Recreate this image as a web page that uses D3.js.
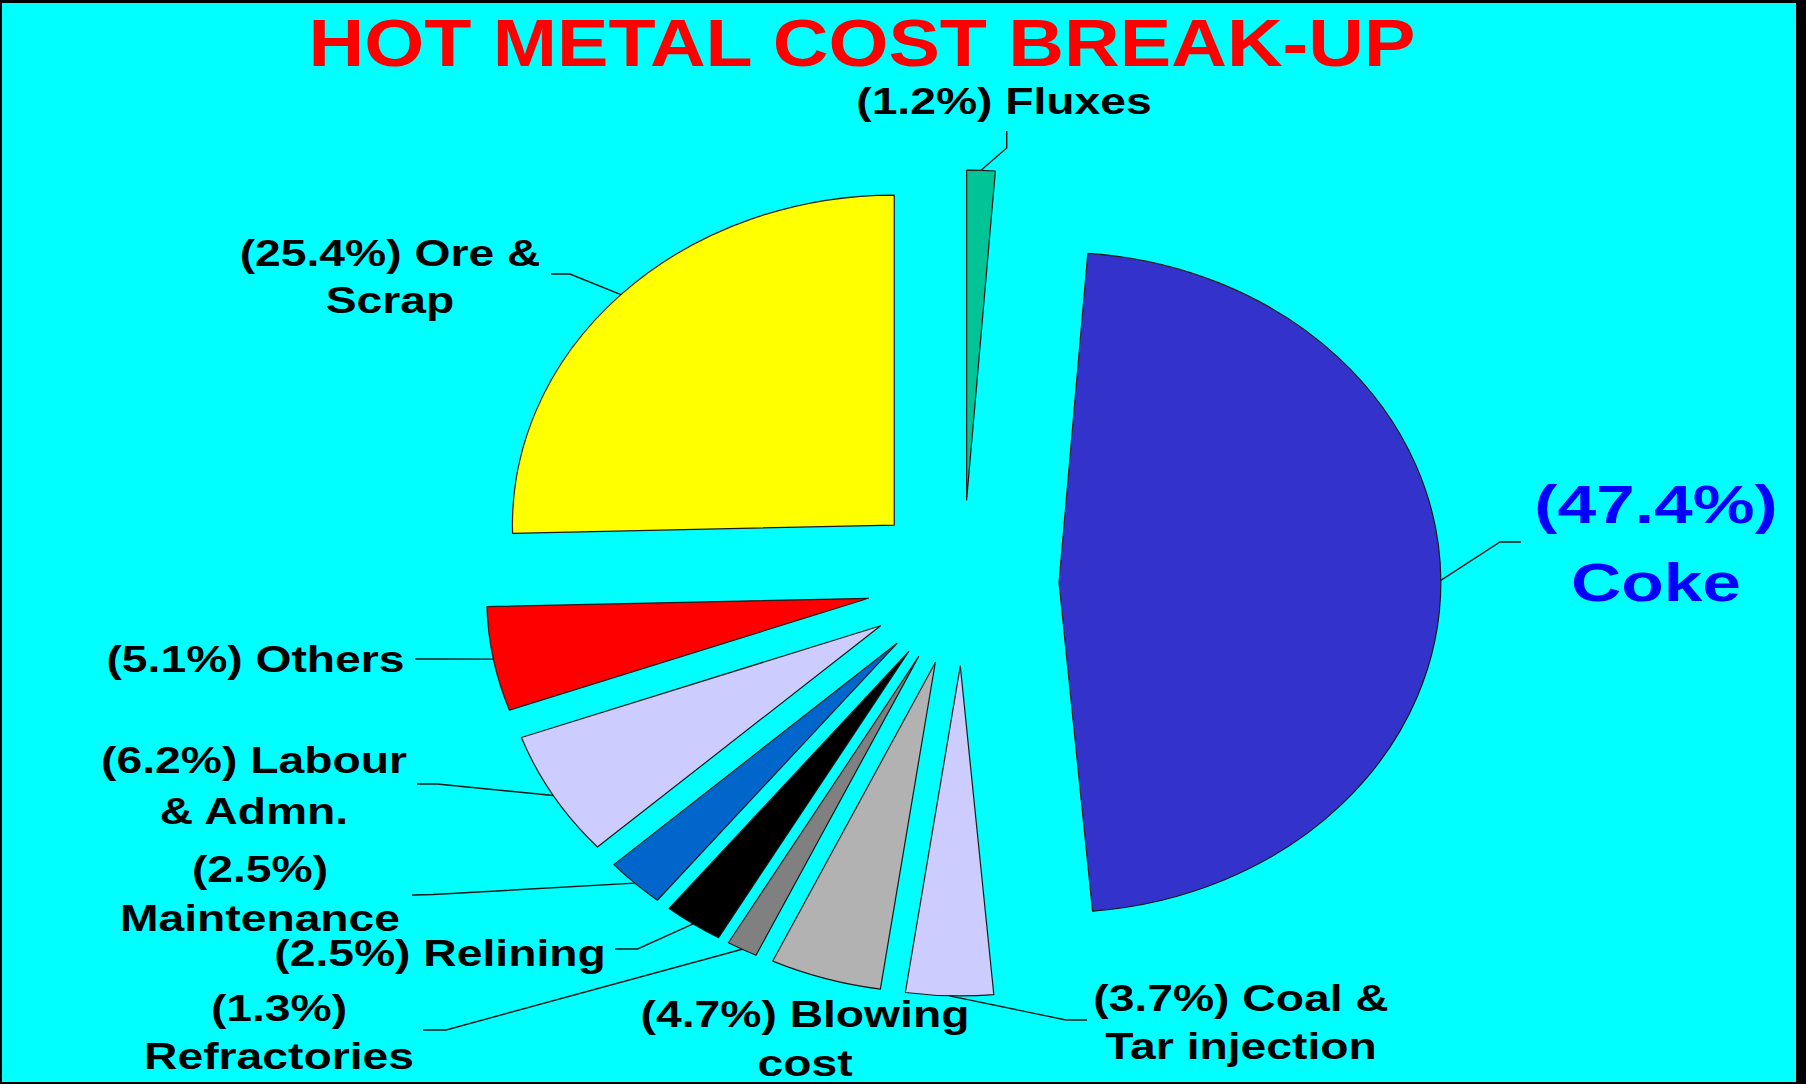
<!DOCTYPE html>
<html>
<head>
<meta charset="utf-8">
<script src="https://cdn.jsdelivr.net/npm/d3@7"></script>
<style>
  html, body { margin: 0; padding: 0; background: #00FFFF; }
  svg { display: block; }
</style>
</head>
<body>
<svg id="chart" width="1806" height="1084"></svg>
<script>
// Cost components, clockwise from 12 o'clock
const categories = ["Fluxes", "Coke", "Coal & Tar injection", "Blowing cost", "Refractories",
                    "Relining", "Maintenance", "Labour & Admn.", "Others", "Ore & Scrap"];
const shares = [1.2, 47.4, 3.7, 4.7, 1.3, 2.5, 2.5, 6.2, 5.1, 25.4];
// How each category name is wrapped after its percentage
const nameLines = [["Fluxes"], ["", "Coke"], ["Coal &", "Tar injection"], ["Blowing", "cost"],
                   ["", "Refractories"], ["Relining"], ["", "Maintenance"], ["Labour", "& Admn."],
                   ["Others"], ["Ore &", "Scrap"]];
const chartTitle = "HOT METAL COST BREAK-UP";

// Slice fills
const fills = ["#00C495", "#3333CC", "#CCCCFF", "#B2B2B2", "#808080",
               "#000000", "#0066CC", "#CCCCFF", "#FF0000", "#FFFF00"];

// Label placement: anchor, first baseline, line gap, leader elbow + end
const labelLayout = [
  { x: 1004, y: 114, gap: 0,  leader: [[1006.7, 148], [1006.7, 131]] },
  { x: 1656, y: 523, gap: 78, leader: [[1500, 542], [1521, 542]], big: true },
  { x: 1241, y: 1011, gap: 48, leader: [[1066, 1020], [1087, 1020]] },
  { x: 805,  y: 1027, gap: 48.5, leader: null },
  { x: 279,  y: 1021, gap: 48, leader: [[446, 1030], [423, 1030]] },
  { x: 440,  y: 966, gap: 0,  leader: [[637.5, 949], [615, 949]] },
  { x: 260,  y: 882, gap: 49, leader: [[433, 894.5], [412, 895]] },
  { x: 254,  y: 773, gap: 51, leader: [[437, 784], [417, 784]] },
  { x: 255.5, y: 672, gap: 0, leader: [[433, 659], [415, 659]] },
  { x: 390,  y: 266, gap: 47, leader: [[570, 274], [551, 274]] }
];

const W = 1806, H = 1084;
const cx = 963, cy = 583;      // pie centre
const R = 330;                 // radius
const explode = 83;            // distance every slice is pulled out
const stretch = 1.157;         // horizontal stretch of the whole pie

const svg = d3.select("#chart");

svg.append("rect").attr("width", W).attr("height", H).attr("fill", "#00FFFF");

const pie = d3.pie().sort(null).value(d => d.v).startAngle(0).endAngle(2 * Math.PI);
const arcs = pie(shares.map((v, i) => ({ v, i })));
const arc = d3.arc().innerRadius(0).outerRadius(R);

const pieG = svg.append("g")
  .attr("transform", `translate(${cx},${cy}) scale(${stretch},1)`);

pieG.selectAll("path.slice")
  .data(arcs)
  .join("path")
  .attr("class", "slice")
  .attr("transform", d => {
    const m = (d.startAngle + d.endAngle) / 2;
    return `translate(${explode * Math.sin(m)},${-explode * Math.cos(m)})`;
  })
  .attr("d", arc)
  .attr("fill", d => fills[d.data.i])
  .attr("stroke", "#1a1a1a")
  .attr("stroke-width", 1.2)
  .attr("vector-effect", "non-scaling-stroke")
  .attr("stroke-linejoin", "round");

// Leader lines start at the outer edge of each slice, on its bisector
function edgePoint(d) {
  const m = (d.startAngle + d.endAngle) / 2;
  const r = R + explode;
  return [cx + stretch * r * Math.sin(m), cy - r * Math.cos(m)];
}

const leaderG = svg.append("g");
arcs.forEach(d => {
  const lay = labelLayout[d.data.i];
  if (!lay.leader) return;
  const pts = [edgePoint(d), ...lay.leader];
  leaderG.append("path")
    .attr("d", d3.line()(pts))
    .attr("fill", "none")
    .attr("stroke", "#0a1a1a")
    .attr("stroke-width", 1.4);
});

// Labels
const labelG = svg.append("g")
  .attr("font-family", "'Liberation Sans', Arial, sans-serif")
  .attr("font-weight", "bold")
  .attr("text-anchor", "middle");

arcs.forEach(d => {
  const i = d.data.i;
  const lay = labelLayout[i];
  const pct = `(${shares[i].toFixed(1)}%)`;
  const parts = nameLines[i];
  const lines = [parts[0] ? `${pct} ${parts[0]}` : pct, ...parts.slice(1)];
  lines.forEach((t, k) => {
    labelG.append("text")
      .attr("transform", `translate(${lay.x},${lay.y + k * lay.gap}) scale(${lay.big ? 1.3 : 1.25},1)`)
      .attr("font-size", lay.big ? 53.5 : 37)
      .attr("fill", lay.big ? "#0000FF" : "#000000")
      .text(t);
  });
});

// Title
svg.append("text")
  .attr("transform", "translate(862,66) scale(1.16,1)")
  .attr("text-anchor", "middle")
  .attr("font-family", "'Liberation Sans', Arial, sans-serif")
  .attr("font-weight", "bold")
  .attr("font-size", 66.5)
  .attr("fill", "#FF0000")
  .text(chartTitle);

// Frame
const frame = svg.append("g").attr("fill", "#000");
frame.append("rect").attr("x", 0).attr("y", 0).attr("width", W).attr("height", 3);
frame.append("rect").attr("x", 0).attr("y", 0).attr("width", 2).attr("height", H);
frame.append("rect").attr("x", 0).attr("y", H - 2).attr("width", W).attr("height", 2);
frame.append("rect").attr("x", W - 10).attr("y", 0).attr("width", 10).attr("height", H);
</script>
</body>
</html>
